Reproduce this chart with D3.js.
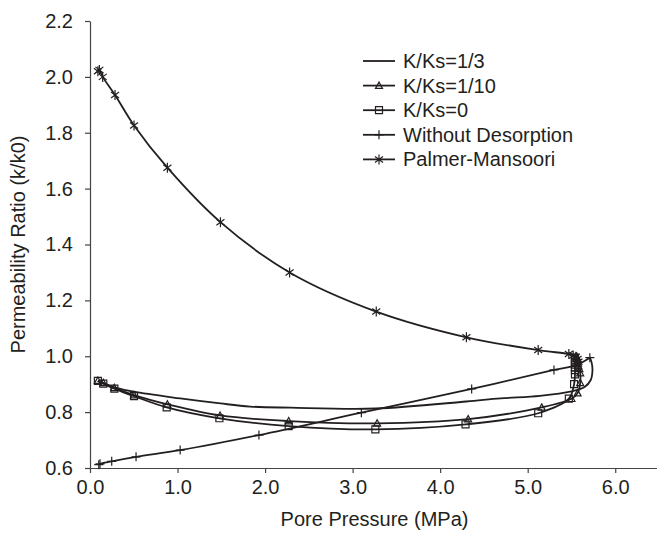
<!DOCTYPE html>
<html>
<head>
<meta charset="utf-8">
<script src="https://cdn.jsdelivr.net/npm/d3@7"></script>
<style>
  body { margin: 0; background: #fff; }
  text { font-family: Arial, "Liberation Sans", sans-serif; fill: #231f20; }
</style>
</head>
<body>
<div id="vis"></div>
<script>
// series values: [pore pressure (MPa), k/k0]
let kks3 = [[0.09, 0.912], [0.15, 0.903], [0.28, 0.889], [0.5, 0.873], [1.03, 0.849], [1.49, 0.831],
  [1.83, 0.820], [2.29, 0.816], [3.26, 0.813], [4.3, 0.838], [4.69, 0.849], [5.14, 0.858],
  [5.5, 0.874], [5.65, 0.89], [5.72, 0.915], [5.74, 0.95], [5.73, 0.978], [5.71, 0.995]];
let kks10 = [[0.09, 0.913], [0.152, 0.905], [0.278, 0.887], [0.503, 0.861], [0.884, 0.828], [1.486, 0.788],
  [2.27, 0.768], [3.28, 0.760], [4.32, 0.775], [5.16, 0.817], [5.5, 0.848], [5.57, 0.868],
  [5.6, 0.905], [5.6, 0.94], [5.59, 0.955], [5.58, 0.965], [5.575, 0.975], [5.57, 0.985],
  [5.565, 0.992], [5.56, 0.998]];
let kks0 = [[0.09, 0.912], [0.152, 0.902], [0.278, 0.884], [0.503, 0.857], [0.876, 0.817], [1.478, 0.778],
  [2.27, 0.750], [3.26, 0.738], [4.29, 0.756], [5.12, 0.796], [5.47, 0.848], [5.53, 0.9],
  [5.54, 0.935], [5.54, 0.95], [5.54, 0.96], [5.54, 0.97], [5.54, 0.98], [5.54, 0.988], [5.54, 0.995]];
let noDesorption = [[0.1, 0.612], [0.114, 0.615], [0.248, 0.624], [0.526, 0.640], [1.03, 0.664], [1.93, 0.718],
  [3.10, 0.798], [4.36, 0.883], [5.30, 0.951], [5.55, 0.968], [5.71, 0.995]];
let palmer = [[0.09, 2.02], [0.107, 2.025], [0.145, 2.0], [0.286, 1.935], [0.503, 1.826], [0.884, 1.675],
  [1.49, 1.48], [2.28, 1.30], [3.27, 1.16], [4.3, 1.068], [5.12, 1.022], [5.47, 1.008],
  [5.52, 1.003], [5.55, 0.998], [5.57, 0.99], [5.58, 0.98]];

let seriesNames = ['K/Ks=1/3', 'K/Ks=1/10', 'K/Ks=0', 'Without Desorption', 'Palmer-Mansoori'];
let seriesMarks = ['none', 'triangle', 'square', 'plus', 'star'];
let xTicks = [0, 1, 2, 3, 4, 5, 6];
let yTicks = [0.6, 0.8, 1.0, 1.2, 1.4, 1.6, 1.8, 2.0, 2.2];

let series = [kks3, kks10, kks0, noDesorption, palmer].map((pts, i) => ({
  name: seriesNames[i], mark: seriesMarks[i], pts: pts
}));

let W = 657, H = 539;
let svg = d3.select('#vis')
  .append('svg')
    .attr('width', W)
    .attr('height', H);

let x = d3.scaleLinear().domain([0, 6.5]).range([90, 659]);
let y = d3.scaleLinear().domain([0.6, 2.2]).range([468, 21]);

let ink = '#231f20';

// axes
let xAxis = svg.append('g')
  .attr('transform', `translate(0,${y(0.6)})`)
  .call(d3.axisBottom(x).tickValues(xTicks).tickSize(5).tickSizeOuter(0).tickFormat(d3.format('.1f')));
let yAxis = svg.append('g')
  .attr('transform', `translate(${x(0)},0)`)
  .call(d3.axisLeft(y).tickValues(yTicks).tickSize(5).tickSizeOuter(0).tickFormat(d3.format('.1f')));

[xAxis, yAxis].forEach(g => {
  g.select('.domain').attr('stroke', '#444').attr('stroke-width', 1.2);
  g.selectAll('.tick line').attr('stroke', '#444').attr('stroke-width', 1.2);
  g.selectAll('.tick text').style('font-size', '20px').attr('fill', ink);
});
xAxis.selectAll('.tick text').attr('y', 12);
yAxis.selectAll('.tick text').attr('x', -17);

svg.append('text')
  .attr('x', (x.range()[0] + x.range()[1]) / 2)
  .attr('y', 526)
  .attr('text-anchor', 'middle')
  .style('font-size', '20px')
  .text('Pore Pressure (MPa)');

svg.append('text')
  .attr('transform', `translate(25,${(y.range()[0] + y.range()[1]) / 2}) rotate(-90)`)
  .attr('text-anchor', 'middle')
  .style('font-size', '20px')
  .text('Permeability Ratio (k/k0)');

// marker shapes
function markPath(type, s) {
  let h = s / 2;
  if (type == 'triangle') return `M0,${-h}L${h},${h * 0.8}L${-h},${h * 0.8}Z`;
  if (type == 'square') return `M${-h},${-h}H${h}V${h}H${-h}Z`;
  if (type == 'plus') return `M${-h},0H${h}M0,${-h}V${h}`;
  if (type == 'star') return `M0,${-h}V${h}M${-h * 0.8},${-h * 0.6}L${h * 0.8},${h * 0.6}M${-h * 0.8},${h * 0.6}L${h * 0.8},${-h * 0.6}`;
  return '';
}
let markSize = { triangle: 7, square: 7, plus: 9, star: 10 };

let line = d3.line()
  .x(d => x(d[0]))
  .y(d => y(d[1]))
  .curve(d3.curveCatmullRom.alpha(0.5));

series.forEach(s => {
  svg.append('path')
    .attr('d', line(s.pts))
    .attr('fill', 'none')
    .attr('stroke', ink)
    .attr('stroke-width', 1.8);
  if (s.mark != 'none') {
    svg.append('g').selectAll('path')
      .data(s.pts)
      .join('path')
        .attr('transform', d => `translate(${x(d[0])},${y(d[1])})`)
        .attr('d', markPath(s.mark, markSize[s.mark]))
        .attr('fill', 'none')
        .attr('stroke', ink)
        .attr('stroke-width', 1.2);
  }
});

// legend
let legend = svg.append('g');
series.forEach((s, i) => {
  let ly = 61 + i * 24.6;
  legend.append('line')
    .attr('x1', 363).attr('x2', 395)
    .attr('y1', ly).attr('y2', ly)
    .attr('stroke', ink)
    .attr('stroke-width', 1.8);
  if (s.mark != 'none') {
    legend.append('path')
      .attr('transform', `translate(379,${ly})`)
      .attr('d', markPath(s.mark, markSize[s.mark]))
      .attr('fill', 'none')
      .attr('stroke', ink)
      .attr('stroke-width', 1.2);
  }
  legend.append('text')
    .attr('x', 403)
    .attr('y', ly)
    .attr('dy', '0.35em')
    .style('font-size', '20px')
    .text(s.name);
});
</script>
</body>
</html>
